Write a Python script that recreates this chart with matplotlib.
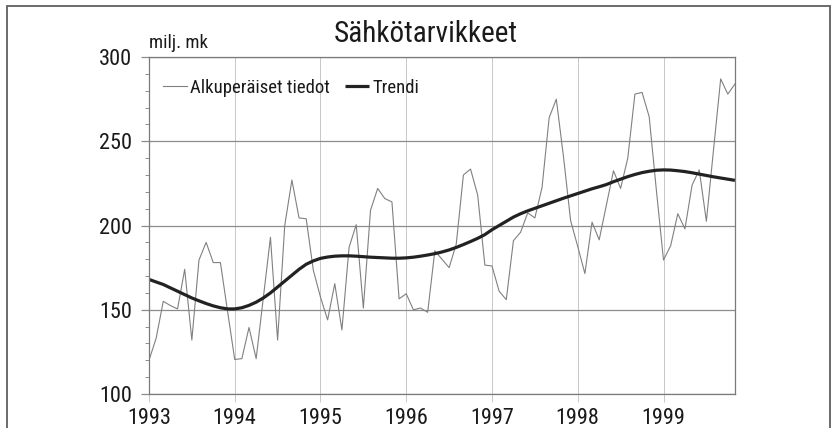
import numpy as np
import matplotlib; matplotlib.use("Agg")
import matplotlib.pyplot as plt
from matplotlib.patches import Rectangle
from matplotlib.ticker import MultipleLocator

plt.rcParams["font.family"] = ["Roboto Condensed", "Archivo Narrow", "DejaVu Sans"]

# monthly values, Jan 1993 .. Nov 1999 (milj. mk)
original = [
    120, 133, 155, 152.5, 150.5, 174, 132, 179.5, 190, 178, 178, 149,     # 1993
    120.5, 121, 139.5, 121, 157, 193, 132, 200, 227, 204.5, 204, 173.5,  # 1994
    157.5, 144, 165.5, 138, 187, 200.5, 151, 209, 222, 216, 214, 156.5,  # 1995
    159.5, 150, 151, 148.5, 185, 180, 175, 189, 230, 233.5, 218, 176.5,  # 1996
    176, 161, 156, 191, 196, 207.5, 204.5, 222.5, 264, 275, 241, 203,    # 1997
    187.5, 171.5, 202, 191.5, 212, 232.5, 222, 240, 278, 279, 264.5, 221, # 1998
    179.5, 188, 207, 198, 224, 233, 202.5, 245, 287, 278, 284,           # 1999
]
trend = [
    168, 166.5, 165, 163, 161, 159, 157, 155.3, 153.7, 152.3, 151.2, 150.5,
    150.5, 151.2, 152.6, 154.5, 157, 160, 163.5, 167, 170.5, 174, 177, 179,
    180.5, 181.3, 181.8, 182, 182, 181.8, 181.5, 181.2, 181, 180.8, 180.6, 180.6,
    180.8, 181.2, 181.8, 182.5, 183.3, 184.3, 185.5, 187, 188.7, 190.5, 192.4, 194.6,
    197.5, 200, 202.5, 205, 207, 208.7, 210.2, 211.7, 213.2, 214.7, 216.2, 217.6,
    219, 220.4, 221.8, 223, 224.3, 226, 227.5, 229, 230.3, 231.4, 232.2, 232.8,
    233, 232.9, 232.5, 232, 231.3, 230.5, 229.7, 228.9, 228.2, 227.5, 226.8,
]
years = [1993, 1994, 1995, 1996, 1997, 1998, 1999]
t = 1993 + np.arange(len(original)) / 12

fig = plt.figure(figsize=(8.35, 4.28), dpi=100)
ax = fig.add_axes([0.1784, 0.0794, 0.7018, 0.7874])

# outer frame
fig.patches.append(Rectangle((7 / 835, -0.05), 823 / 835, 1.05 - 6 / 428,
                             transform=fig.transFigure, fill=False,
                             edgecolor="#606060", lw=1.3, clip_on=False))

ax.plot(t, original, color="#808080", lw=0.8, label="Alkuperäiset tiedot")
ax.plot(t, trend, color="#222222", lw=2.3, label="Trendi", solid_capstyle="butt")

ax.set_xlim(1993, t[-1])
ax.set_ylim(100, 300)
ax.set_xticks(years)
ax.set_xticklabels([str(y) for y in years])
ax.set_yticks([100, 150, 200, 250, 300])
ax.yaxis.set_minor_locator(MultipleLocator(10))

ax.grid(axis="x", color="#c8c8c8", lw=0.7)
ax.grid(axis="y", color="#8c8c8c", lw=0.9)
ax.set_axisbelow(True)
for s in ax.spines.values():
    s.set_color("#7a7a7a")
    s.set_linewidth(0.9)

ax.tick_params(axis="x", which="major", length=6, width=0.7, color="#c8c8c8",
               pad=4, labelsize=16, labelcolor="#1a1a1a")
ax.tick_params(axis="y", which="major", length=6, width=0.9, color="#8c8c8c",
               pad=6, labelsize=16, labelcolor="#1a1a1a")
ax.tick_params(axis="y", which="minor", length=3, width=0.7, color="#8c8c8c")

leg = ax.legend(loc="upper left", bbox_to_anchor=(0.024, 0.935), ncol=2, frameon=False,
                fontsize=13.5, handlelength=1.3, handletextpad=0.15, borderpad=0,
                columnspacing=0.8, borderaxespad=0)
for txt in leg.get_texts():
    txt.set_color("#1a1a1a")

fig.text(149 / 835, 1 - 48 / 428, "milj. mk", fontsize=13.5, color="#1a1a1a",
         ha="left", va="baseline")
fig.text(426 / 835, 1 - 42 / 428, "Sähkötarvikkeet", fontsize=21, color="#1a1a1a",
         ha="center", va="baseline")

fig.savefig("out.png", dpi=100)
